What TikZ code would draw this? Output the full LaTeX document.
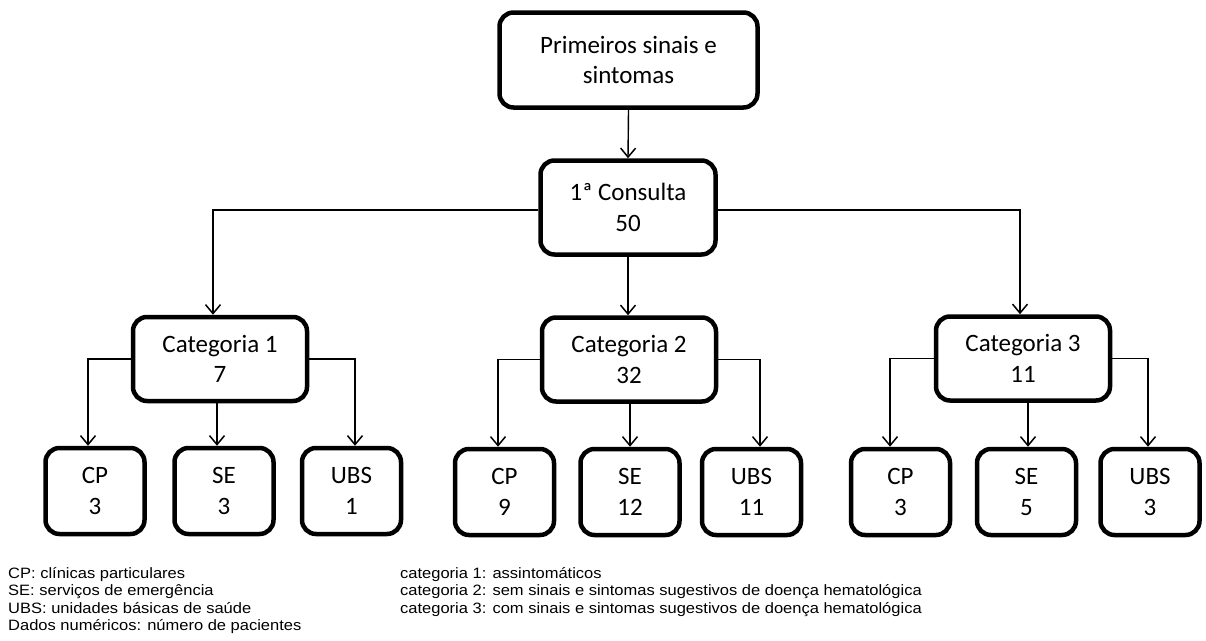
\documentclass[tikz,border=0pt]{standalone}
\usepackage{fontspec}
\setmainfont{Carlito}
\newfontfamily\legfont[FakeStretch=1.1]{Liberation Sans}
\usetikzlibrary{arrows.meta}
\begin{document}
\begin{tikzpicture}[x=1pt,y=-1pt,
  box/.style={draw=black, line width=4.5pt, rounded corners=14pt, align=center,
    font=\fontsize{25}{30.5}\selectfont, inner sep=0pt},
  leaf/.style={box, minimum width=99pt, minimum height=86pt},
  catbox/.style={box, minimum width=174pt, minimum height=84pt},
  arr/.style={draw=black, line width=1.4pt, -{Straight Barb[length=9pt,width=15pt,line width=1.5pt]}},
  leg/.style={anchor=base west, inner sep=0pt, font=\legfont\fontsize{15}{17}\selectfont}
]
\useasboundingbox (0,0) rectangle (1206,640);

\node[box, minimum width=258pt, minimum height=95pt] (top) at (628.5,60) {Primeiros sinais e\\sintomas};
\node[box, minimum width=175pt, minimum height=94pt] (cons) at (628,207.5) {1ª Consulta\\50};

\node[catbox] (cat1) at (220,359) {Categoria 1\\7};
\node[catbox] (cat2) at (629,359.5) {Categoria 2\\32};
\node[catbox] (cat3) at (1023,358.5) {Categoria 3\\11};

\node[leaf] (cp1) at (95,491) {CP\\3};
\node[leaf] (se1) at (224,491) {SE\\3};
\node[leaf] (ubs1) at (351.5,491) {UBS\\1};
\node[leaf] (cp2) at (504.5,492) {CP\\9};
\node[leaf] (se2) at (630,492) {SE\\12};
\node[leaf] (ubs2) at (751.5,492) {UBS\\11};
\node[leaf] (cp3) at (900.5,492) {CP\\3};
\node[leaf] (se3) at (1026.5,492) {SE\\5};
\node[leaf] (ubs3) at (1150,492) {UBS\\3};

\draw[arr] (top.south) -- (cons.north);
\draw[arr] ([yshift=-2.5pt]cons.west) -| ([xshift=-7pt]cat1.north);
\draw[arr] (cons.south) -- ([xshift=-1pt]cat2.north);
\draw[arr] ([yshift=-2.5pt]cons.east) -| ([xshift=-3pt]cat3.north);

\draw[arr] (cat1.west) -| ([xshift=-7pt]cp1.north);
\draw[arr] ([xshift=-3pt]cat1.south) -- ([xshift=-7pt]se1.north);
\draw[arr] (cat1.east) -| ([xshift=3.5pt]ubs1.north);

\draw[arr] (cat2.west) -| ([xshift=-6.5pt]cp2.north);
\draw[arr] ([xshift=1pt]cat2.south) -- (se2.north);
\draw[arr] (cat2.east) -| ([xshift=8.5pt]ubs2.north);

\draw[arr] (cat3.west) -| ([xshift=-10.5pt]cp3.north);
\draw[arr] ([xshift=5pt]cat3.south) -- ([xshift=1.5pt]se3.north);
\draw[arr] (cat3.east) -| ([xshift=-2pt]ubs3.north);

\node[leg] (l1) at (8,578) {CP: clínicas particulares};
\node[leg] (l2) at (8,595.5) {SE: serviços de emergência};
\node[leg] (l3) at (8,613) {UBS: unidades básicas de saúde};
\node[leg] (l4) at (8,630.5) {Dados numéricos: número de pacientes};
\node[leg] (r1) at (400,578) {categoria 1: assintomáticos};
\node[leg] (r2) at (400,595.5) {categoria 2: sem sinais e sintomas sugestivos de doença hematológica};
\node[leg] (r3) at (400,613) {categoria 3: com sinais e sintomas sugestivos de doença hematológica};
\end{tikzpicture}
\end{document}
